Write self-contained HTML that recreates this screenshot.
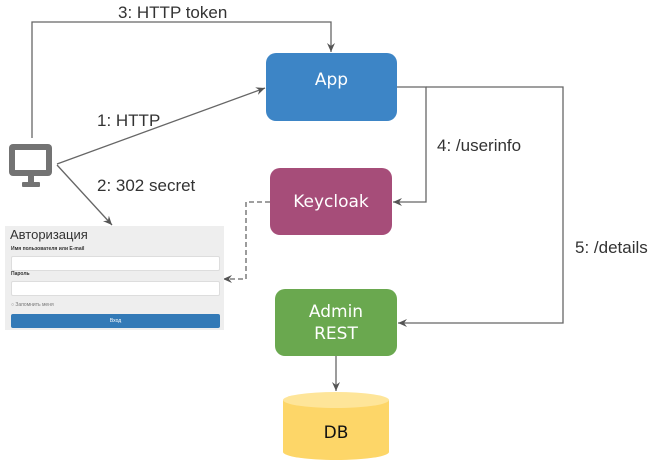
<!DOCTYPE html>
<html><head><meta charset="utf-8"><style>
body{margin:0;width:657px;height:470px;background:#fff;overflow:hidden;position:relative;font-family:"Liberation Sans",sans-serif}
.lbl{position:absolute;font-size:17px;color:#333;white-space:nowrap}
.box{position:absolute;border-radius:10px;color:#fff;font-family:"DejaVu Sans","Liberation Sans",sans-serif;font-size:17px;display:flex;align-items:center;justify-content:center;text-align:center;line-height:22px}
.form{position:absolute;left:5px;top:226px;width:219px;height:104px;background:#eee;font-family:"Liberation Sans","Noto Sans CJK SC",sans-serif}
.inp{position:absolute;left:6px;width:207px;height:13px;background:#fff;border:1px solid #ddd;border-radius:2px}
.sm{position:absolute;left:6px;font-size:5px;font-weight:bold;color:#333}
</style></head><body>
<svg width="657" height="470" style="position:absolute;left:0;top:0">
<defs><marker id="a" markerWidth="10" markerHeight="10" refX="9" refY="5" orient="auto" markerUnits="userSpaceOnUse"><path d="M0,1 L9,5 L0,9 L3,5z" fill="#555"/></marker></defs>
<g stroke="#666" stroke-width="1.3" fill="none">
<polyline points="32,138 32,22 331,22 331,52" marker-end="url(#a)"/>
<line x1="57" y1="164" x2="265" y2="88" marker-end="url(#a)"/>
<line x1="57" y1="165" x2="112" y2="225" marker-end="url(#a)"/>
<polyline points="397,87 426,87 426,202 393,202" marker-end="url(#a)"/>
<polyline points="426,87 563,87 563,323 398,323" marker-end="url(#a)"/>
<line x1="336" y1="356" x2="336" y2="391" marker-end="url(#a)"/>
<polyline points="270,202 246,202 246,279 223,279" stroke-dasharray="5,3" marker-end="url(#a)"/>
</g>
<rect x="9" y="144" width="43" height="32" rx="4" fill="#737373"/>
<rect x="15" y="150" width="31" height="20" fill="#fff"/>
<rect x="28" y="176" width="6" height="7" fill="#737373"/>
<rect x="22" y="182" width="18" height="5" rx="1" fill="#737373"/>
<path d="M283,400 L283,452 A53,8 0 0 0 389,452 L389,400 Z" fill="#fdd668"/>
<ellipse cx="336" cy="400" rx="53" ry="8" fill="#fee599"/>
</svg>
<div class="lbl" style="left:118px;top:3px">3: HTTP token</div>
<div class="lbl" style="left:97px;top:111px">1: HTTP</div>
<div class="lbl" style="left:97px;top:176px">2: 302 secret</div>
<div class="lbl" style="left:437px;top:136px">4: /userinfo</div>
<div class="lbl" style="left:575px;top:238px">5: /details</div>
<div class="box" style="left:266px;top:53px;width:131px;height:68px;background:#3d85c6;align-items:flex-start"><span style="margin-top:16px">App</span></div>
<div class="box" style="left:270px;top:168px;width:122px;height:67px;background:#a64d79">Keycloak</div>
<div class="box" style="left:275px;top:289px;width:122px;height:67px;background:#6aa84f">Admin<br>REST</div>
<div class="box" style="left:283px;top:410px;width:106px;height:45px;color:#111">DB</div>
<div class="form">
<div style="position:absolute;left:5px;top:1px;font-size:13px;color:#333">Авторизация</div>
<div class="sm" style="top:20px">Имя пользователя или E-mail</div>
<div class="inp" style="top:30px"></div>
<div class="sm" style="top:45px">Пароль</div>
<div class="inp" style="top:55px"></div>
<div style="position:absolute;left:6px;top:76px;font-size:5px;color:#777">○ Запомнить меня</div>
<div style="position:absolute;left:6px;top:88px;width:209px;height:14px;background:#337ab7;border-radius:2px;color:#fff;font-size:5px;text-align:center;line-height:14px">Вход</div>
</div>
</body></html>
